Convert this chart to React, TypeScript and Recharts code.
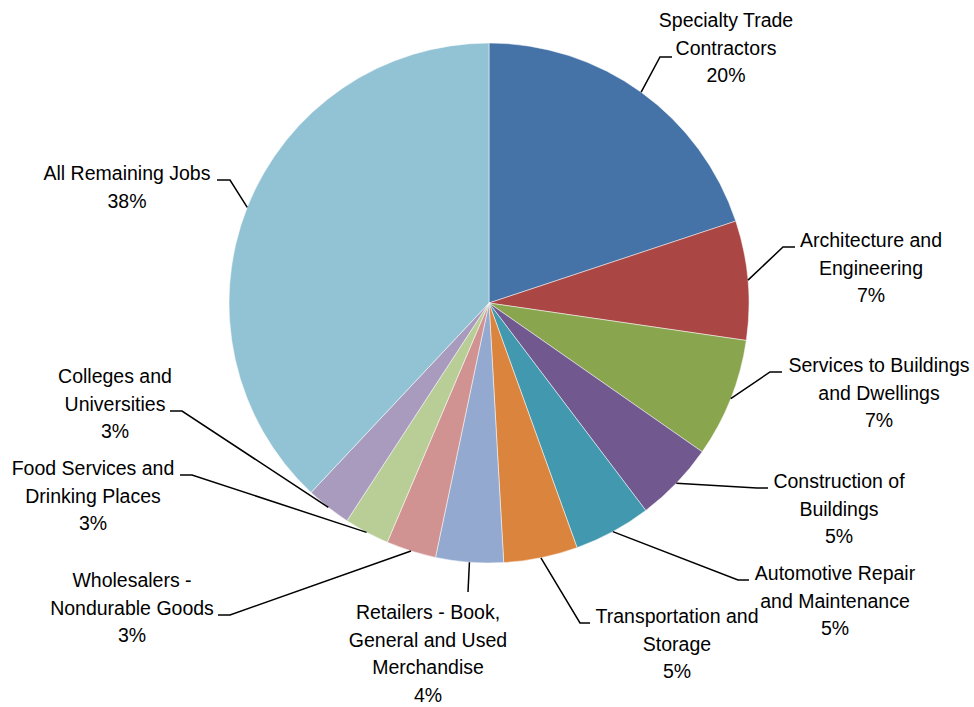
import React from "react";
import { PieChart, Pie, Cell } from "recharts";

const CATEGORIES = [
  "Specialty Trade\nContractors",
  "Architecture and\nEngineering",
  "Services to Buildings\nand Dwellings",
  "Construction of\nBuildings",
  "Automotive Repair\nand Maintenance",
  "Transportation and\nStorage",
  "Retailers - Book,\nGeneral and Used\nMerchandise",
  "Wholesalers -\nNondurable Goods",
  "Food Services and\nDrinking Places",
  "Colleges and\nUniversities",
  "All Remaining Jobs",
];

const SHARES = [19.9, 7.4, 7.4, 5.0, 4.8, 4.6, 4.2, 3.1, 2.8, 2.8, 38.0];

const COLORS = [
  "#4572A7",
  "#AA4643",
  "#89A54E",
  "#71588F",
  "#4198AF",
  "#DB843D",
  "#93A9CF",
  "#D19392",
  "#B9CD96",
  "#A99BBD",
  "#92C3D5",
];

// label placement relative to the pie centre: elbow, tail end x, text x, first baseline
const LABEL_LAYOUT = [
  { ex: 171, ey: -246, tx: 183, lx: 237, ly: -276 },
  { ex: 294, ey: -56, tx: 306, lx: 382, ly: -56 },
  { ex: 281, ey: 69, tx: 293, lx: 390, ly: 69 },
  { ex: 268, ey: 185, tx: 279, lx: 350, ly: 185 },
  { ex: 249, ey: 277, tx: 260, lx: 346, ly: 277 },
  { ex: 91, ey: 320, tx: 101, lx: 188, ly: 320 },
  { ex: -21, ey: 289, tx: -21, lx: -61, ly: 316 },
  { ex: -259, ey: 312, tx: -271, lx: -357, ly: 284 },
  { ex: -297, ey: 172, tx: -309, lx: -396, ly: 172 },
  { ex: -307, ey: 108, tx: -319, lx: -374, ly: 80 },
  { ex: -259, ey: -123, tx: -272, lx: -362, ly: -123 },
];

const LINE_H = 27.5;
const RAD = Math.PI / 180;

const data = CATEGORIES.map((name, i) => ({ name, value: SHARES[i] }));

const renderLabel = (props: any) => {
  const { cx, cy, midAngle, outerRadius, percent, index, name } = props;
  const lay = LABEL_LAYOUT[index];
  const ax = cx + outerRadius * Math.cos(-midAngle * RAD);
  const ay = cy + outerRadius * Math.sin(-midAngle * RAD);
  const ex = cx + lay.ex;
  const ey = cy + lay.ey;
  const tx = cx + lay.tx;
  const lines = [...String(name).split("\n"), `${Math.round(percent * 100)}%`];
  return (
    <g key={`lbl-${index}`}>
      <polyline
        points={`${ax},${ay} ${ex},${ey} ${tx},${ey}`}
        fill="none"
        stroke="#000"
        strokeWidth={1.5}
      />
      <text
        x={cx + lay.lx}
        y={cy + lay.ly}
        textAnchor="middle"
        fontSize={19.5}
        fill="#000"
        fontFamily="'Liberation Sans', Arial, sans-serif"
      >
        {lines.map((l, k) => (
          <tspan key={k} x={cx + lay.lx} y={cy + lay.ly + k * LINE_H}>
            {l}
          </tspan>
        ))}
      </text>
    </g>
  );
};

export default function App() {
  return (
    <div style={{ position: "absolute", left: 0, top: 0, background: "#fff" }}>
      <PieChart
        width={974}
        height={707}
        margin={{ top: 0, right: 0, bottom: 0, left: 0 }}
      >
        <Pie
          data={data}
          dataKey="value"
          nameKey="name"
          cx={489}
          cy={303}
          outerRadius={260}
          startAngle={90}
          endAngle={-270}
          stroke="#ffffff"
          strokeWidth={0.5}
          label={renderLabel}
          labelLine={false}
          isAnimationActive={false}
        >
          {data.map((d, i) => (
            <Cell key={d.name} fill={COLORS[i]} />
          ))}
        </Pie>
      </PieChart>
    </div>
  );
}
